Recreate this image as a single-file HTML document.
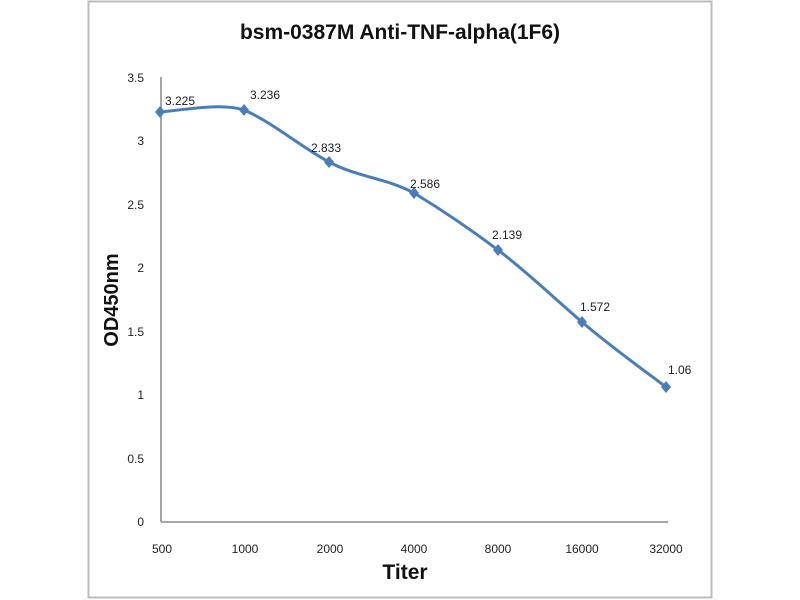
<!DOCTYPE html>
<html><head><style>body{margin:0;background:#fff}svg{display:block}</style></head><body>
<svg width="800" height="600" xmlns="http://www.w3.org/2000/svg" font-family="Liberation Sans, sans-serif">
<rect x="88.5" y="1.5" width="623" height="596" fill="#fff" stroke="#bdbdbd" stroke-width="2"/>
<text x="400" y="39" font-size="21" font-weight="bold" text-anchor="middle" fill="#111">bsm-0387M Anti-TNF-alpha(1F6)</text>
<line x1="161" y1="77" x2="161" y2="522" stroke="#888" stroke-width="1.5"/>
<line x1="161" y1="522" x2="668" y2="522" stroke="#888" stroke-width="1.5"/>
<g font-size="12" fill="#222" text-anchor="end">
<text x="144" y="526">0</text><text x="144" y="463">0.5</text><text x="144" y="399">1</text>
<text x="144" y="336">1.5</text><text x="144" y="272">2</text><text x="144" y="209">2.5</text>
<text x="144" y="145">3</text><text x="144" y="82">3.5</text></g>
<g font-size="12" fill="#222" text-anchor="middle">
<text x="162" y="553">500</text><text x="245" y="553">1000</text><text x="330" y="553">2000</text>
<text x="414" y="553">4000</text><text x="498" y="553">8000</text><text x="582" y="553">16000</text><text x="666" y="553">32000</text></g>
<text x="405" y="579" font-size="21" font-weight="bold" text-anchor="middle" fill="#111">Titer</text>
<text transform="translate(118,300) rotate(-90)" font-size="20" font-weight="bold" text-anchor="middle" fill="#111">OD450nm</text>
<path d="M160,112 C190,109 222,103 244,110 C272,122 301,147 329,162 C357,177 386,178 414,193 C442,210 470,229 498,250 C526,271 554,298 582,322 C610,346 638,366 666,387" fill="none" stroke="#4a7ebb" stroke-width="3"/>
<g fill="#4a7ebb">
<path d="M160,106l5,6l-5,6l-5,-6z"/><path d="M244,104l5,6l-5,6l-5,-6z"/><path d="M329,156l5,6l-5,6l-5,-6z"/>
<path d="M414,187l5,6l-5,6l-5,-6z"/><path d="M498,244l5,6l-5,6l-5,-6z"/><path d="M582,316l5,6l-5,6l-5,-6z"/><path d="M666,381l5,6l-5,6l-5,-6z"/></g>
<g font-size="12" fill="#222">
<text x="165" y="105">3.225</text><text x="250" y="99">3.236</text><text x="311" y="152">2.833</text>
<text x="410" y="188">2.586</text><text x="492" y="239">2.139</text><text x="580" y="311">1.572</text><text x="668" y="374">1.06</text></g>
</svg>
</body></html>
